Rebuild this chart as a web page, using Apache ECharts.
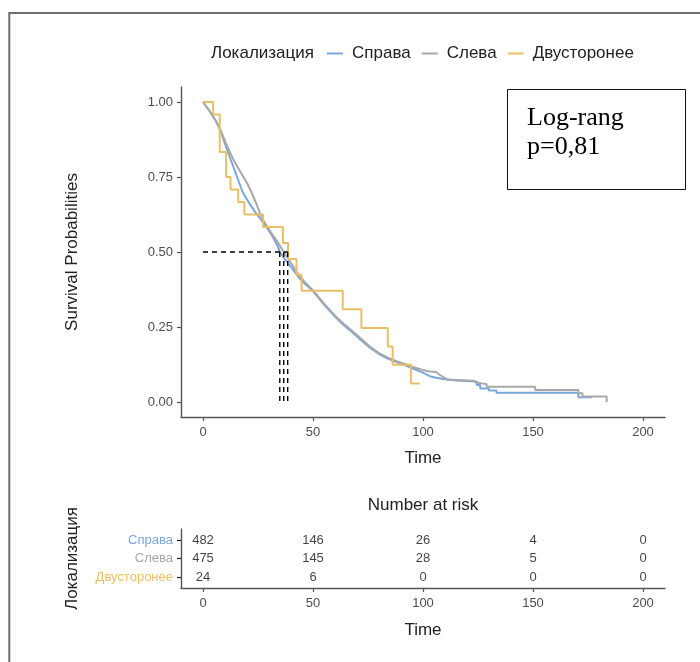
<!DOCTYPE html>
<html>
<head>
<meta charset="utf-8">
<script src="https://cdn.jsdelivr.net/npm/echarts@6/dist/echarts.min.js"></script>
<style>
  html, body { margin: 0; padding: 0; background: #fff; }
  #chart { width: 700px; height: 662px; }
</style>
</head>
<body>
<div id="chart"></div>
<script>
// Kaplan–Meier curves by tumour side, with number-at-risk table
const groupNames  = ['Справа', 'Слева', 'Двусторонее'];
const groupColors = ['#7AA6DC', '#A8A8A8', '#E8BF64'];

// Справа (n = 482)
const rightTimes = [0, 3, 6, 8, 10, 12, 14, 16, 18, 20, 22, 24, 26, 28, 30, 32, 34, 35, 37, 40, 43, 46, 50, 55, 60, 64, 68, 72, 76, 80, 84, 88, 92, 96, 100, 103, 106, 110, 115, 120, 124.4, 124.4, 126, 126, 130, 130, 133.4, 133.4, 170.6, 170.6, 176.7];
const rightSurv  = [1, 0.97, 0.935, 0.905, 0.86, 0.82, 0.78, 0.74, 0.70, 0.675, 0.652, 0.63, 0.612, 0.592, 0.57, 0.547, 0.518, 0.5, 0.478, 0.45, 0.42, 0.396, 0.37, 0.325, 0.285, 0.256, 0.232, 0.205, 0.18, 0.16, 0.145, 0.133, 0.122, 0.11, 0.098, 0.086, 0.081, 0.076, 0.072, 0.07, 0.068, 0.057, 0.057, 0.045, 0.045, 0.038, 0.038, 0.031, 0.031, 0.016, 0.016];

// Слева (n = 475)
const leftTimes = [0, 3, 6, 8, 10, 12, 14, 16, 18, 20, 22, 24, 26, 28, 30, 32, 34, 36.7, 40, 43, 46, 50, 55, 60, 64, 68, 72, 76, 80, 84, 88, 92, 96, 100, 103, 106, 107.7, 110, 111, 122.9, 124, 127, 128.9, 128.9, 151, 151, 170.6, 170.6, 172.5, 172.5, 183.5, 183.5];
const leftSurv  = [1, 0.97, 0.935, 0.905, 0.87, 0.836, 0.806, 0.78, 0.755, 0.73, 0.70, 0.665, 0.628, 0.598, 0.575, 0.553, 0.532, 0.5, 0.463, 0.43, 0.402, 0.372, 0.328, 0.288, 0.26, 0.236, 0.21, 0.184, 0.163, 0.148, 0.136, 0.126, 0.115, 0.107, 0.102, 0.1, 0.09, 0.08, 0.075, 0.071, 0.066, 0.062, 0.06, 0.051, 0.051, 0.04, 0.04, 0.029, 0.029, 0.018, 0.018, 0];

// Двусторонее (n = 24), step function: value holds from its time to the next
const bilatTimes = [0, 4.6, 7.6, 10.5, 12.5, 16, 18.8, 27.3, 36.3, 38.7, 42.5, 44.8, 63.5, 72, 84, 86.2, 94.5, 98.5];
const bilatSurv  = [1, 0.958, 0.833, 0.75, 0.708, 0.667, 0.625, 0.583, 0.53, 0.477, 0.424, 0.371, 0.309, 0.247, 0.185, 0.124, 0.062, 0.062];

// Median survival times (Справа, Слева, Двусторонее)
const medianTimes = [34.9, 36.7, 38.5];

// Number at risk
const riskTimes = [0, 50, 100, 150, 200];
const riskRight = [482, 146, 26, 4, 0];
const riskLeft  = [475, 145, 28, 5, 0];
const riskBilat = [24, 6, 0, 0, 0];

const timeTicks = [0, 50, 100, 150, 200];
const survTicks = [0, 0.25, 0.5, 0.75, 1];
const rowValues = [3, 2, 1]; // table rows, top to bottom

const pValueText = 'Log-rang\np=0,81';

const FONT = '"Liberation Sans", Arial, Helvetica, sans-serif';
const SERIF = '"Liberation Serif", "Times New Roman", serif';
const AXIS_COLOR = '#555';

const zip = (xs, ys) => xs.map((x, i) => [x, ys[i]]);

function timeAxis(gridIndex, nameGap) {
  return {
    type: 'value', gridIndex, min: -10, max: 210,
    name: 'Time', nameLocation: 'middle', nameGap,
    nameTextStyle: { fontFamily: FONT, fontSize: 17, color: '#222' },
    axisLine: { show: true, onZero: false, lineStyle: { color: AXIS_COLOR, width: 1.4 } },
    axisTick: { show: true, customValues: timeTicks, length: 4, lineStyle: { color: AXIS_COLOR, width: 1.2 } },
    axisLabel: { customValues: timeTicks, fontFamily: FONT, fontSize: 13, color: '#4d4d4d', margin: 9 },
    splitLine: { show: false }
  };
}

const riskRows = [riskRight, riskLeft, riskBilat];
const riskData = [];
riskRows.forEach((row, g) => {
  row.forEach((n, i) => riskData.push([riskTimes[i], rowValues[g], n]));
});

const rowRich = {};
groupNames.forEach((name, g) => {
  rowRich['g' + g] = { fontFamily: FONT, fontSize: 13, color: groupColors[g] };
});

const curveSeries = [
  { data: zip(rightTimes, rightSurv), step: false },
  { data: zip(leftTimes, leftSurv), step: false },
  { data: zip(bilatTimes, bilatSurv), step: 'end' }
].map((c, g) => ({
  type: 'line', name: groupNames[g], xAxisIndex: 0, yAxisIndex: 0,
  data: c.data, step: c.step, showSymbol: false, symbol: 'none',
  lineStyle: { color: groupColors[g], width: 2 },
  itemStyle: { color: groupColors[g] },
  z: 2 + g, silent: true
}));

const dashStyle = { color: '#000', width: 1.4, type: [5, 4] };
const medianSeries = [
  { type: 'line', xAxisIndex: 0, yAxisIndex: 0, symbol: 'none', silent: true, z: 6,
    data: [[0, 0.5], [Math.max(...medianTimes), 0.5]], lineStyle: dashStyle }
].concat(medianTimes.map(t => ({
  type: 'line', xAxisIndex: 0, yAxisIndex: 0, symbol: 'none', silent: true, z: 6,
  data: [[t, 0.5], [t, 0]], lineStyle: dashStyle
})));

const option = {
  animation: false,
  backgroundColor: '#fff',
  textStyle: { fontFamily: FONT },
  grid: [
    { left: 181, top: 87, width: 484, height: 330 },
    { left: 181, top: 529, width: 484, height: 59 }
  ],
  xAxis: [timeAxis(0, 33), timeAxis(1, 34)],
  yAxis: [
    {
      type: 'value', gridIndex: 0, min: -0.05, max: 1.05,
      name: 'Survival Probabilities', nameLocation: 'middle', nameGap: 100,
      nameTextStyle: { fontFamily: FONT, fontSize: 17, color: '#222' },
      axisLine: { show: true, onZero: false, lineStyle: { color: AXIS_COLOR, width: 1.4 } },
      axisTick: { show: true, customValues: survTicks, length: 4, lineStyle: { color: AXIS_COLOR, width: 1.2 } },
      axisLabel: { customValues: survTicks, fontFamily: FONT, fontSize: 13, color: '#4d4d4d', margin: 8,
                   formatter: v => v.toFixed(2) },
      splitLine: { show: false }
    },
    {
      type: 'value', gridIndex: 1, min: 0.4, max: 3.6,
      name: 'Локализация', nameLocation: 'middle', nameGap: 100,
      nameTextStyle: { fontFamily: FONT, fontSize: 17, color: '#222' },
      axisLine: { show: true, onZero: false, lineStyle: { color: AXIS_COLOR, width: 1.4 } },
      axisTick: { show: true, customValues: rowValues, length: 4, lineStyle: { color: '#222', width: 1.2 } },
      axisLabel: {
        customValues: rowValues, margin: 8,
        formatter: v => {
          const g = rowValues.indexOf(Math.round(v));
          return g < 0 ? '' : '{g' + g + '|' + groupNames[g] + '}';
        },
        rich: rowRich
      },
      splitLine: { show: false }
    }
  ],
  legend: {
    data: groupNames, left: 327, top: 45, padding: 0,
    icon: 'rect', itemWidth: 16, itemHeight: 2, itemGap: 11,
    selectedMode: false,
    textStyle: { fontFamily: FONT, fontSize: 17, color: '#222', padding: [0, 0, 0, 4] }
  },
  series: curveSeries.concat(medianSeries, [{
    type: 'scatter', xAxisIndex: 1, yAxisIndex: 1, data: riskData,
    symbol: 'circle', symbolSize: 1, itemStyle: { color: 'rgba(0,0,0,0)' }, silent: true,
    label: {
      show: true, position: 'inside', formatter: p => String(p.data[2]),
      fontFamily: FONT, fontSize: 13, color: '#111'
    }
  }]),
  graphic: [
    { type: 'rect', shape: { x: 9.3, y: 13, width: 900, height: 900 },
      style: { fill: null, stroke: '#6e6e6e', lineWidth: 2 }, silent: true },
    { type: 'text', x: 211, y: 53,
      style: { text: 'Локализация', fontFamily: FONT, fontSize: 17, fill: '#222', verticalAlign: 'middle' } },
    { type: 'text', x: 423, y: 505,
      style: { text: 'Number at risk', fontFamily: FONT, fontSize: 17, fill: '#222', align: 'center', verticalAlign: 'middle' } },
    { type: 'rect', shape: { x: 507.5, y: 89.5, width: 178, height: 100 },
      style: { fill: '#fff', stroke: '#111', lineWidth: 1 }, z: 10 },
    { type: 'text', x: 527, y: 104, z: 11,
      style: { text: pValueText, fontFamily: SERIF, fontSize: 26, lineHeight: 29, fill: '#000', verticalAlign: 'top' } }
  ]
};

echarts.init(document.getElementById('chart'), null, { renderer: 'canvas' }).setOption(option);
</script>
</body>
</html>
